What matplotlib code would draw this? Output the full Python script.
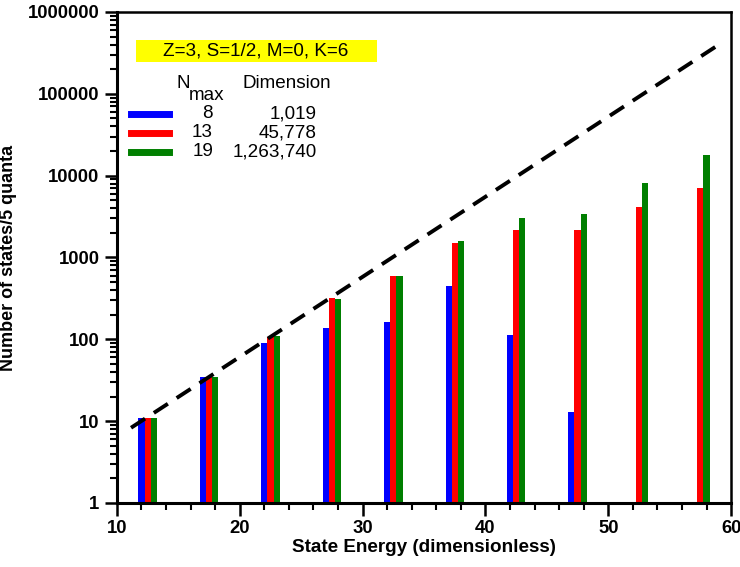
import numpy as np
import matplotlib
matplotlib.use("Agg")
import matplotlib.pyplot as plt
from matplotlib.lines import Line2D
from matplotlib.patches import Rectangle
from matplotlib.ticker import FixedLocator, FuncFormatter, LogLocator, MultipleLocator

plt.rcParams['font.family'] = ['Liberation Sans', 'DejaVu Sans']

# Données
energies = [12, 17, 22, 27, 32, 37, 42, 47, 52, 57]
nmax_8 = [11, 35, 91, 139, 163, 450, 113, 13, 0, 0]
nmax_13 = [11, 35, 107, 320, 600, 1510, 2190, 2155, 4150, 7030]
nmax_19 = [11, 35, 110, 315, 600, 1610, 3050, 3380, 8240, 17960]
nmax_labels = ["8", "13", "19"]
dim_labels = ["1,019", "45,778", "1,263,740"]
couleurs = ["#0000ff", "#ff0000", "#007f00"]

# droite pointillée (croissance exponentielle)
ligne_x = [11.15, 58.9]
ligne_y = [8.3, 3.9e5]

fig = plt.figure(figsize=(7.4, 5.67), dpi=100)
ax = fig.add_axes([0.158, 0.1129, 0.83, 0.866])

series = [nmax_8, nmax_13, nmax_19]
for i, (vals, c) in enumerate(zip(series, couleurs)):
    x = [e + 0.5 * i for e in energies]
    h = [v - 1 if v > 1 else 0 for v in vals]
    ax.bar(x, h, bottom=1, width=0.5, color=c, edgecolor="none", align="center")

ax.plot(ligne_x, ligne_y, color="black", lw=2.8, dashes=(4.3, 2.7))

ax.set_yscale("log")
ax.set_xlim(10, 60)
ax.set_ylim(1, 1e6)

ax.xaxis.set_major_locator(MultipleLocator(10))
ax.xaxis.set_minor_locator(MultipleLocator(2))
ax.yaxis.set_major_locator(FixedLocator([1, 10, 100, 1000, 1e4, 1e5, 1e6]))
ax.yaxis.set_minor_locator(LogLocator(base=10, subs=np.arange(2, 10), numticks=20))
ax.yaxis.set_major_formatter(FuncFormatter(lambda v, p: f"{int(round(v))}"))

ax.tick_params(axis="both", which="major", direction="out", length=9, width=1.8,
               labelsize=13.3)
ax.tick_params(axis="both", which="minor", direction="out", length=5, width=1.5)
for lab in ax.get_xticklabels() + ax.get_yticklabels():
    lab.set_fontweight("bold")

for s in ["left", "bottom"]:
    ax.spines[s].set_linewidth(2.2)
for s in ["top", "right"]:
    ax.spines[s].set_linewidth(1.8)

ax.set_xlabel("State Energy (dimensionless)", fontsize=13.6, fontweight="bold", labelpad=1)
ax.set_ylabel("Number of states/5 quanta", fontsize=13, fontweight="bold", labelpad=8)

# encadré jaune
fig.add_artist(Rectangle((136 / 740, 1 - 62 / 567), 241 / 740, 22 / 567,
                         facecolor="#ffff00", edgecolor="none", transform=fig.transFigure))
fig.text(256 / 740, 1 - 51 / 567, "Z=3, S=1/2, M=0, K=6", ha="center", va="center",
         fontsize=13.6)

# légende manuelle
fig.text(176 / 740, 1 - 84 / 567, "N", fontsize=13.6, va="center")
fig.text(189 / 740, 1 - 95 / 567, "max", fontsize=13.6, va="center")
fig.text(243 / 740, 1 - 84 / 567, "Dimension", fontsize=13.6, va="center")
rows_y = [114, 133, 152]
for ry, c, n, d in zip(rows_y, couleurs, nmax_labels, dim_labels):
    yy = 1 - ry / 567
    fig.add_artist(Line2D([131 / 740, 169 / 740], [yy, yy], color=c, lw=5,
                          transform=fig.transFigure))
    fig.text(213 / 740, yy, n, fontsize=13.6, ha="right", va="center")
    fig.text(317 / 740, yy, d, fontsize=13.6, ha="right", va="center")

fig.savefig("out.png", dpi=100)
